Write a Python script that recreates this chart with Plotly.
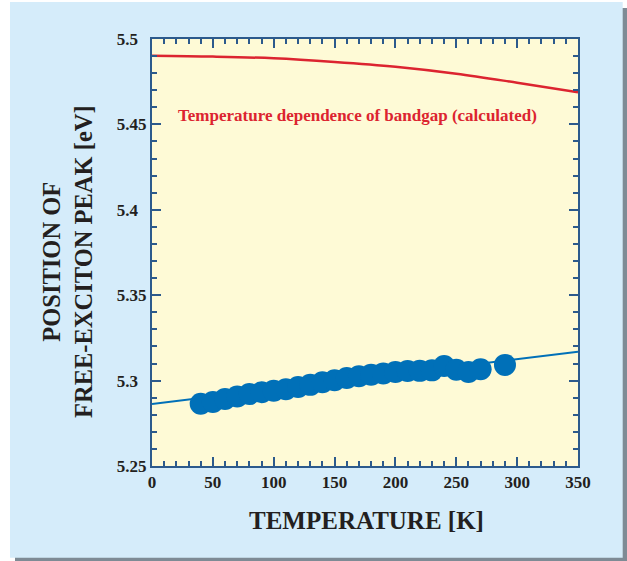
import plotly.graph_objects as go

# Measured free-exciton peak positions
temp_K = [40, 50, 60, 70, 80, 90, 100, 110, 120, 130, 140, 150, 160, 170, 180,
          190, 200, 210, 220, 230, 240, 250, 260, 270, 290]
peak_eV = [5.2865, 5.2875, 5.2893, 5.2907, 5.2921, 5.2932, 5.2941, 5.2949, 5.2962,
           5.2975, 5.2990, 5.3002, 5.3015, 5.3026, 5.3034, 5.3042, 5.3050, 5.3056,
           5.3057, 5.3060, 5.3086, 5.3064, 5.3050, 5.3066, 5.3092]

# Linear fit through measured points
fit_T = [0, 350]
fit_E = [5.2863, 5.3169]

# Calculated bandgap temperature dependence
gap_T = [0, 50, 100, 150, 200, 250, 300, 350]
gap_E = [5.4902, 5.4897, 5.4887, 5.4866, 5.4838, 5.4797, 5.4744, 5.4688]

x_ticks = [0, 50, 100, 150, 200, 250, 300, 350]
x_ticktext = ["0", "50", "100", "150", "200", "250", "300", "350"]
y_ticks = [5.25, 5.3, 5.35, 5.4, 5.45, 5.5]
y_ticktext = ["5.25", "5.3\u2007", "5.35", "5.4\u2007", "5.45", "5.5\u2007"]

AXIS = "#2c5a8c"
BLUE = "#0070b8"
RED = "#dc2430"
PANEL = "#d5ecfa"
PLOT = "#fefad6"
SHADOW = "#7e8b95"
TEXT = "#231f20"
FONT = "Liberation Serif, Times New Roman, serif"

L, R, T, B = 152, 49, 39, 95
W, H = 627, 561
pw, ph = W - L - R, H - T - B


def px(x):
    return (x - L) / pw


def py(y):
    return (H - B - y) / ph


fig = go.Figure()

fig.add_trace(go.Scatter(x=fit_T, y=fit_E, mode="lines",
                         line=dict(color=BLUE, width=2), hoverinfo="skip",
                         showlegend=False))
fig.add_trace(go.Scatter(x=temp_K, y=peak_eV, mode="markers",
                         marker=dict(color=BLUE, size=22, line=dict(width=0)),
                         showlegend=False))
fig.add_trace(go.Scatter(x=gap_T, y=gap_E, mode="lines",
                         line=dict(color=RED, width=2.5, shape="spline"),
                         showlegend=False))

shapes = [
    dict(type="rect", xref="paper", yref="paper", layer="below",
         x0=px(15), x1=px(640), y0=py(8), y1=py(575),
         fillcolor=SHADOW, line=dict(width=0)),
    dict(type="rect", xref="paper", yref="paper", layer="below",
         x0=px(10), x1=px(622.7), y0=py(2), y1=py(557.7),
         fillcolor=PANEL, line=dict(width=0)),
    dict(type="rect", xref="paper", yref="paper", layer="below",
         x0=0, x1=1, y0=0, y1=1,
         fillcolor=PLOT, line=dict(width=0)),
]

annotations = [
    dict(text="<b>Temperature dependence of bandgap (calculated)</b>",
         xref="paper", yref="paper", x=px(357), y=py(116),
         xanchor="center", yanchor="middle", showarrow=False,
         font=dict(family=FONT, size=17, color=RED)),
    dict(text="<b>TEMPERATURE [K]</b>", xref="paper", yref="paper",
         x=px(366), y=py(520), xanchor="center", yanchor="middle",
         showarrow=False,
         font=dict(family=FONT, size=25, color=TEXT)),
    dict(text="<b>POSITION OF<br>FREE-EXCITON PEAK [eV]</b>", xref="paper",
         yref="paper", x=px(67), y=py(262), xanchor="center", yanchor="middle",
         textangle=-90, showarrow=False,
         font=dict(family=FONT, size=24.5, color=TEXT)),
]

fig.update_layout(
    width=W, height=H,
    margin=dict(l=L, r=R, t=T, b=B),
    paper_bgcolor="white",
    plot_bgcolor="rgba(0,0,0,0)",
    shapes=shapes,
    annotations=annotations,
    showlegend=False,
    xaxis=dict(range=[0, 350], tickvals=x_ticks,
               ticktext=["<b>%s</b>" % t for t in x_ticktext],
               ticks="inside", ticklen=9,
               tickwidth=2, tickcolor=AXIS, showline=True, linecolor=AXIS,
               linewidth=2, mirror="ticks", showgrid=False, zeroline=False,
               minor=dict(dtick=10, ticks="inside", ticklen=5, tickwidth=1.5,
                          tickcolor=AXIS, showgrid=False),
               tickfont=dict(family=FONT, size=17, color=TEXT)),
    yaxis=dict(range=[5.25, 5.5], tickvals=y_ticks,
               ticktext=["<b>%s</b>" % t for t in y_ticktext],
               ticks="inside", ticklen=9, tickwidth=2, tickcolor=AXIS,
               showline=True, linecolor=AXIS, linewidth=2, mirror="ticks",
               showgrid=False, zeroline=False,
               minor=dict(dtick=0.01, ticks="inside", ticklen=5, tickwidth=1.5,
                          tickcolor=AXIS, showgrid=False),
               tickfont=dict(family=FONT, size=17, color=TEXT)),
)

fig.write_html("out.html")
